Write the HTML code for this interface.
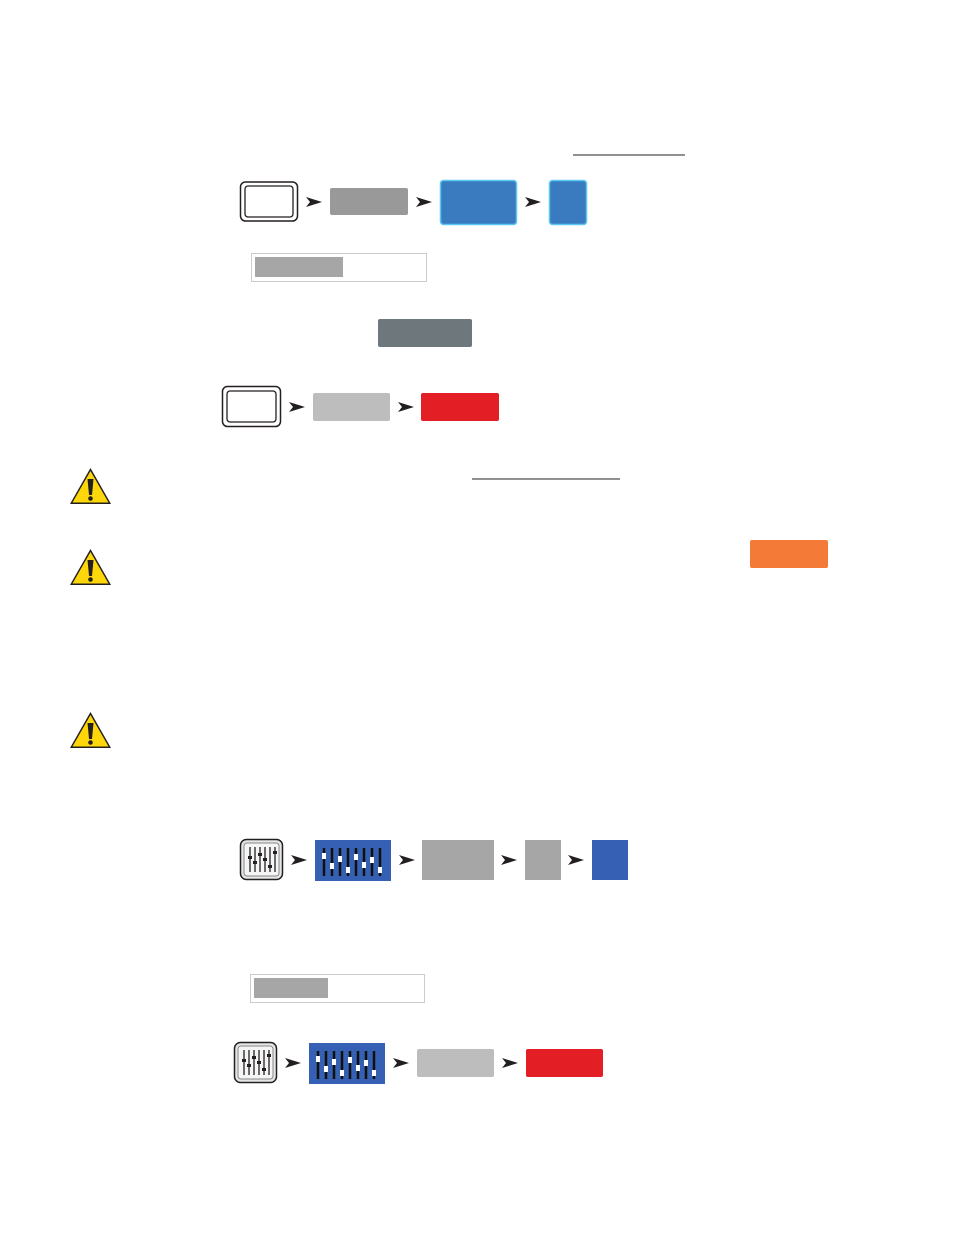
<!DOCTYPE html>
<html><head><meta charset="utf-8"><style>html,body{margin:0;padding:0;background:#fff}svg{display:block}</style></head>
<body>
<svg width="954" height="1235" viewBox="0 0 954 1235" xmlns="http://www.w3.org/2000/svg">
<defs>
<path id="ar" d="M0,-5 L16,0 L0,5 L4,0 Z" fill="#231f20"/>
<g id="warn">
<path d="M20.5,1 L41,37 L0,37 Z" fill="#231f20"/>
<path d="M20.5,4 L38.5,35.5 L2.5,35.5 Z" fill="#fdd70a"/>
<path d="M17.5,12 L23.5,12 L22,28 L19,28 Z" fill="#231f20"/>
<circle cx="20.5" cy="31.5" r="2.3" fill="#231f20"/>
</g>
<g id="ficon">
<rect x="0.5" y="0.5" width="42" height="40" rx="6" fill="#e6e6e6" stroke="#231f20" stroke-width="1.5"/>
<rect x="4" y="4" width="35" height="33" rx="3" fill="#f5f5f5" stroke="#888" stroke-width="1"/>
<g stroke="#231f20" stroke-width="1.3">
<line x1="10" y1="8" x2="10" y2="33"/><line x1="15" y1="8" x2="15" y2="33"/><line x1="20" y1="8" x2="20" y2="33"/><line x1="25" y1="8" x2="25" y2="33"/><line x1="30" y1="8" x2="30" y2="33"/><line x1="35" y1="8" x2="35" y2="33"/>
</g>
<g fill="#231f20"><rect x="8" y="17" width="4" height="3"/><rect x="13" y="22" width="4" height="3"/><rect x="18" y="14" width="4" height="3"/><rect x="23" y="19" width="4" height="3"/><rect x="28" y="26" width="4" height="3"/><rect x="33" y="12" width="4" height="3"/></g>
</g>
<g id="fblue">
<rect x="0" y="0" width="76" height="41" fill="#3560b3"/>
<g stroke="#111" stroke-width="2.5">
<line x1="9" y1="8" x2="9" y2="36"/><line x1="17" y1="8" x2="17" y2="36"/><line x1="25" y1="8" x2="25" y2="36"/><line x1="33" y1="8" x2="33" y2="36"/><line x1="41" y1="8" x2="41" y2="36"/><line x1="49" y1="8" x2="49" y2="36"/><line x1="57" y1="8" x2="57" y2="36"/><line x1="65" y1="8" x2="65" y2="36"/>
</g>
<g fill="#fff"><rect x="7" y="13" width="4" height="6"/><rect x="15" y="23" width="4" height="6"/><rect x="23" y="16" width="4" height="6"/><rect x="31" y="27" width="4" height="6"/><rect x="39" y="14" width="4" height="6"/><rect x="47" y="22" width="4" height="6"/><rect x="55" y="17" width="4" height="6"/><rect x="63" y="27" width="4" height="6"/></g>
</g>
</defs>

<line x1="573" y1="155" x2="685" y2="155" stroke="#231f20" stroke-width="1"/>
<line x1="472" y1="479" x2="620" y2="479" stroke="#231f20" stroke-width="1"/>

<!-- row 1 -->
<rect x="240.5" y="182" width="57" height="39" rx="5" fill="#fff" stroke="#231f20" stroke-width="1.5"/>
<rect x="245" y="186" width="48" height="31" rx="3" fill="#fff" stroke="#231f20" stroke-width="1.3"/>
<use href="#ar" x="306" y="202"/>
<rect x="330" y="188" width="78" height="27" rx="2" fill="#999999"/>
<use href="#ar" x="416" y="202"/>
<rect x="440.5" y="180.5" width="76" height="44" rx="3" fill="#3a7bbf" stroke="#5ac8f0" stroke-width="1.5"/>
<use href="#ar" x="525" y="202"/>
<rect x="549.5" y="180.5" width="37" height="44" rx="3" fill="#3a7bbf" stroke="#5ac8f0" stroke-width="1.5"/>

<rect x="251.5" y="253.5" width="175" height="28" fill="#fff" stroke="#ccc" stroke-width="1"/>
<rect x="255" y="257" width="88" height="20" fill="#a6a6a6"/>

<rect x="378" y="319" width="94" height="28" rx="2" fill="#6e787c"/>

<!-- row 2 -->
<rect x="222.5" y="386.5" width="58" height="40" rx="5" fill="#fff" stroke="#231f20" stroke-width="1.5"/>
<rect x="227" y="391" width="49" height="31" rx="3" fill="#fff" stroke="#231f20" stroke-width="1.3"/>
<use href="#ar" x="289" y="407"/>
<rect x="313" y="393" width="77" height="28" rx="2" fill="#bdbdbd"/>
<use href="#ar" x="398" y="407"/>
<rect x="421" y="393" width="78" height="28" rx="2" fill="#e31e24"/>

<use href="#warn" x="70" y="467"/>
<use href="#warn" x="70" y="548"/>
<use href="#warn" x="70" y="711"/>

<rect x="750" y="540" width="78" height="28" rx="2" fill="#f47a38"/>

<!-- row 3 -->
<use href="#ficon" x="240" y="839"/>
<use href="#ar" x="291" y="860"/>
<use href="#fblue" x="315" y="840"/>
<use href="#ar" x="399" y="860"/>
<rect x="422" y="840" width="72" height="40" fill="#a6a6a6"/>
<use href="#ar" x="501" y="860"/>
<rect x="525" y="840" width="36" height="40" fill="#a6a6a6"/>
<use href="#ar" x="568" y="860"/>
<rect x="592" y="840" width="36" height="40" fill="#3560b3"/>

<rect x="250.5" y="974.5" width="174" height="28" fill="#fff" stroke="#ccc" stroke-width="1"/>
<rect x="254" y="978" width="74" height="20" fill="#a6a6a6"/>

<!-- row 4 -->
<use href="#ficon" x="234" y="1042"/>
<use href="#ar" x="285" y="1063"/>
<use href="#fblue" x="309" y="1043"/>
<use href="#ar" x="393" y="1063"/>
<rect x="417" y="1049" width="77" height="28" rx="2" fill="#bdbdbd"/>
<use href="#ar" x="502" y="1063"/>
<rect x="526" y="1049" width="77" height="28" rx="2" fill="#e31e24"/>
</svg>
</body></html>
